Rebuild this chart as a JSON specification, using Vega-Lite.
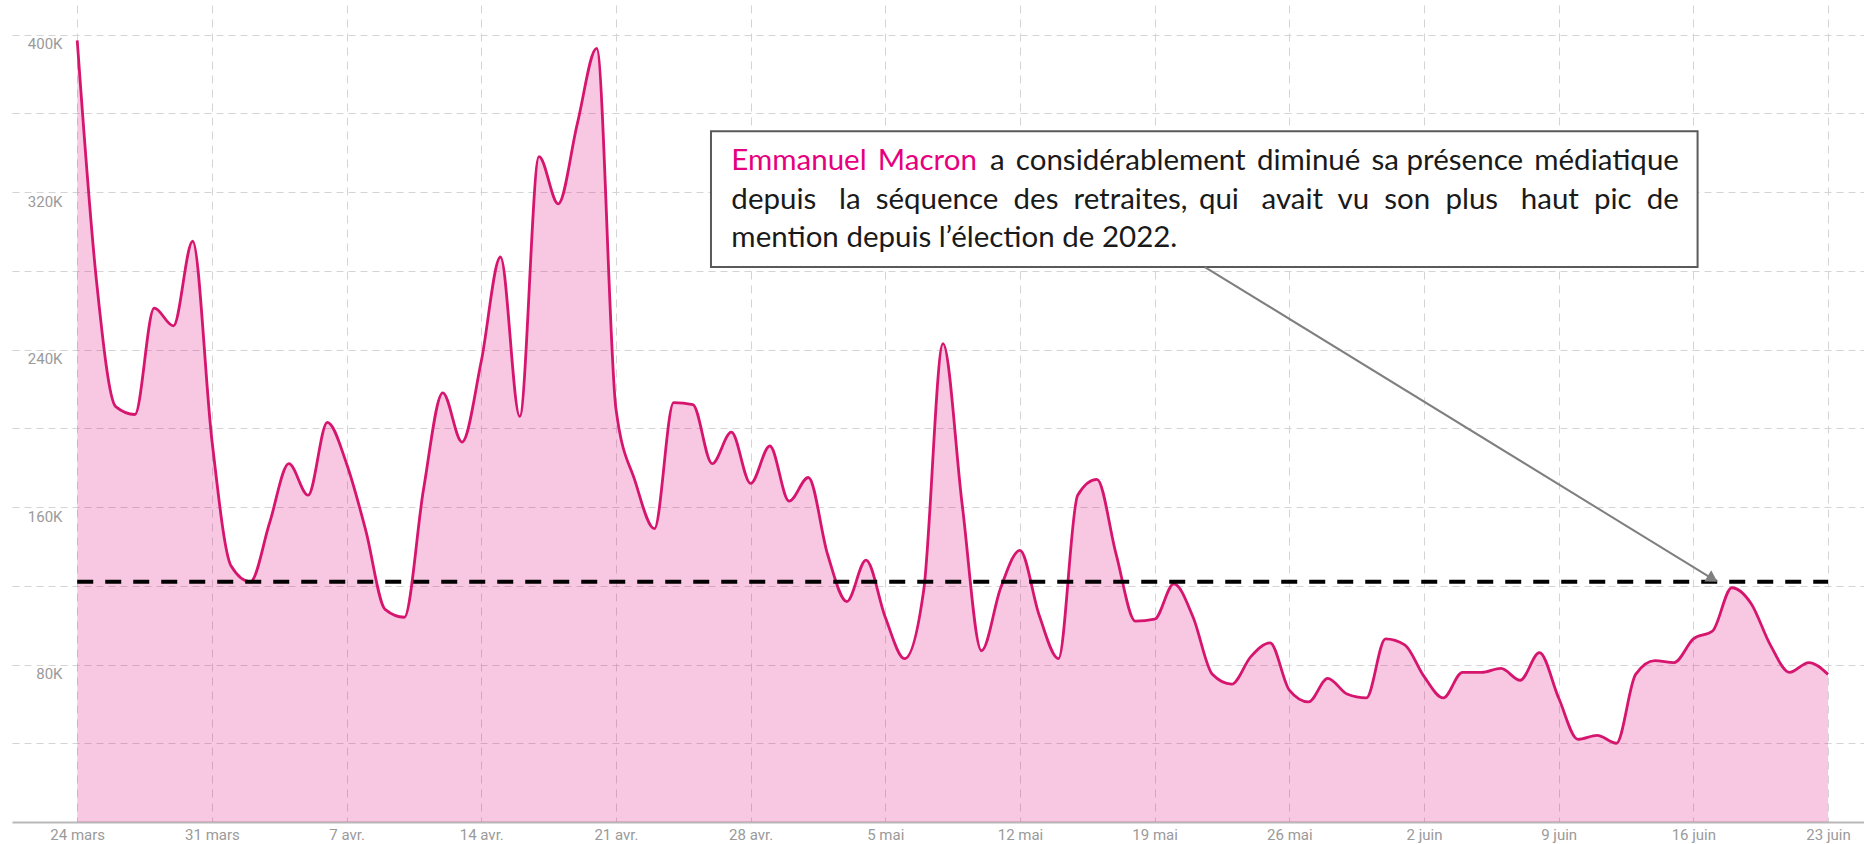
{
  "$schema": "https://vega.github.io/schema/vega-lite/v6.json",
  "width": 1852,
  "height": 817,
  "autosize": {"type": "none"},
  "padding": {"left": 12, "top": 5, "right": 0, "bottom": 22},
  "background": "white",
  "config": {"view": {"stroke": null}, "font": "Roboto"},
  "datasets": {
    "series": [
      {"date": "2023-03-24", "v": 397000}, {"date": "2023-03-25", "v": 275000}, {"date": "2023-03-26", "v": 211000},
      {"date": "2023-03-27", "v": 207000}, {"date": "2023-03-28", "v": 261000}, {"date": "2023-03-29", "v": 252000},
      {"date": "2023-03-30", "v": 295000}, {"date": "2023-03-31", "v": 194000}, {"date": "2023-04-01", "v": 130000},
      {"date": "2023-04-02", "v": 122000}, {"date": "2023-04-03", "v": 152000}, {"date": "2023-04-04", "v": 182000},
      {"date": "2023-04-05", "v": 166000}, {"date": "2023-04-06", "v": 203000}, {"date": "2023-04-07", "v": 182000},
      {"date": "2023-04-08", "v": 148000}, {"date": "2023-04-09", "v": 108000}, {"date": "2023-04-10", "v": 104000},
      {"date": "2023-04-11", "v": 169000}, {"date": "2023-04-12", "v": 218000}, {"date": "2023-04-13", "v": 193000},
      {"date": "2023-04-14", "v": 234000}, {"date": "2023-04-15", "v": 287000}, {"date": "2023-04-16", "v": 206000},
      {"date": "2023-04-17", "v": 338000}, {"date": "2023-04-18", "v": 314000}, {"date": "2023-04-19", "v": 355000},
      {"date": "2023-04-20", "v": 393000}, {"date": "2023-04-21", "v": 210000}, {"date": "2023-04-22", "v": 173000},
      {"date": "2023-04-23", "v": 149000}, {"date": "2023-04-24", "v": 213000}, {"date": "2023-04-25", "v": 212000},
      {"date": "2023-04-26", "v": 182000}, {"date": "2023-04-27", "v": 198000}, {"date": "2023-04-28", "v": 172000},
      {"date": "2023-04-29", "v": 191000}, {"date": "2023-04-30", "v": 163000}, {"date": "2023-05-01", "v": 175000},
      {"date": "2023-05-02", "v": 136000}, {"date": "2023-05-03", "v": 112000}, {"date": "2023-05-04", "v": 133000},
      {"date": "2023-05-05", "v": 104000}, {"date": "2023-05-06", "v": 83000}, {"date": "2023-05-07", "v": 118000},
      {"date": "2023-05-08", "v": 243000}, {"date": "2023-05-09", "v": 161000}, {"date": "2023-05-10", "v": 87000},
      {"date": "2023-05-11", "v": 119000}, {"date": "2023-05-12", "v": 138000}, {"date": "2023-05-13", "v": 105000},
      {"date": "2023-05-14", "v": 83000}, {"date": "2023-05-15", "v": 166000}, {"date": "2023-05-16", "v": 174000},
      {"date": "2023-05-17", "v": 136000}, {"date": "2023-05-18", "v": 102000}, {"date": "2023-05-19", "v": 103000},
      {"date": "2023-05-20", "v": 121000}, {"date": "2023-05-21", "v": 104000}, {"date": "2023-05-22", "v": 75000},
      {"date": "2023-05-23", "v": 70000}, {"date": "2023-05-24", "v": 84000}, {"date": "2023-05-25", "v": 91000},
      {"date": "2023-05-26", "v": 67000}, {"date": "2023-05-27", "v": 61000}, {"date": "2023-05-28", "v": 73000},
      {"date": "2023-05-29", "v": 65000}, {"date": "2023-05-30", "v": 63000}, {"date": "2023-05-31", "v": 93000},
      {"date": "2023-06-01", "v": 90000}, {"date": "2023-06-02", "v": 74000}, {"date": "2023-06-03", "v": 63000},
      {"date": "2023-06-04", "v": 76000}, {"date": "2023-06-05", "v": 76000}, {"date": "2023-06-06", "v": 78000},
      {"date": "2023-06-07", "v": 72000}, {"date": "2023-06-08", "v": 86000}, {"date": "2023-06-09", "v": 63000},
      {"date": "2023-06-10", "v": 42000}, {"date": "2023-06-11", "v": 44000}, {"date": "2023-06-12", "v": 40000},
      {"date": "2023-06-13", "v": 75000}, {"date": "2023-06-14", "v": 82000}, {"date": "2023-06-15", "v": 81000},
      {"date": "2023-06-16", "v": 93000}, {"date": "2023-06-17", "v": 97000}, {"date": "2023-06-18", "v": 119000},
      {"date": "2023-06-19", "v": 111000}, {"date": "2023-06-20", "v": 90000}, {"date": "2023-06-21", "v": 76000},
      {"date": "2023-06-22", "v": 81000}, {"date": "2023-06-23", "v": 75000}
    ],
    "ref": [{"start": "2023-03-24", "end": "2023-06-23", "v": 122000}],
    "box": [{"x1": "2023-04-25T22:34:00Z", "x2": "2023-06-16T05:17:00Z", "y1": 350900, "y2": 281900}],
    "pinkText": [{"x": "2023-04-27T00:00:00Z", "y": 336000, "t": "Emmanuel \u2009Macron"}],
    "leftText": [
      {"x": "2023-04-27T00:00:00Z", "y": 316100, "t": "depuis\u00a0\u00a0\u00a0la\u00a0\u00a0séquence\u00a0\u00a0des\u00a0\u00a0retraites,"},
      {"x": "2023-04-27T00:00:00Z", "y": 296700, "t": "mention depuis l’élection de 2022."}
    ],
    "rightText": [
      {"x": "2023-06-15T06:00:00Z", "y": 336000, "t": "a \u2009considérablement \u2009diminué \u2009sa présence \u2009médiatique"},
      {"x": "2023-06-15T06:00:00Z", "y": 316100, "t": "qui\u00a0\u00a0\u00a0avait\u00a0\u00a0vu\u00a0\u00a0son\u00a0\u00a0plus\u00a0\u00a0\u00a0haut\u00a0\u00a0pic\u00a0\u00a0de"}
    ],
    "arrow": [{"xa": "2023-05-21T14:38:00Z", "ya": 281900, "xb": "2023-06-17T00:00:00Z", "yb": 123500}]
  },
  "layer": [
    {
      "data": {"name": "series"},
      "mark": {"type": "area", "interpolate": "monotone", "color": "#e0007a", "opacity": 0.22},
      "encoding": {
        "x": {
          "field": "date", "type": "temporal", "title": null,
          "scale": {"type": "utc", "domain": [
            {"year": 2023, "month": 3, "date": 20, "hours": 14, "minutes": 38, "utc": true},
            {"year": 2023, "month": 6, "date": 24, "hours": 20, "minutes": 53, "utc": true}
          ]},
          "axis": {
            "values": [
              {"year": 2023, "month": 3, "date": 24, "utc": true},
              {"year": 2023, "month": 3, "date": 31, "utc": true},
              {"year": 2023, "month": 4, "date": 7, "utc": true},
              {"year": 2023, "month": 4, "date": 14, "utc": true},
              {"year": 2023, "month": 4, "date": 21, "utc": true},
              {"year": 2023, "month": 4, "date": 28, "utc": true},
              {"year": 2023, "month": 5, "date": 5, "utc": true},
              {"year": 2023, "month": 5, "date": 12, "utc": true},
              {"year": 2023, "month": 5, "date": 19, "utc": true},
              {"year": 2023, "month": 5, "date": 26, "utc": true},
              {"year": 2023, "month": 6, "date": 2, "utc": true},
              {"year": 2023, "month": 6, "date": 9, "utc": true},
              {"year": 2023, "month": 6, "date": 16, "utc": true},
              {"year": 2023, "month": 6, "date": 23, "utc": true}
            ],
            "labelExpr": "utcdate(datum.value) + ' ' + ['janv.','févr.','mars','avr.','mai','juin'][utcmonth(datum.value)]",
            "grid": true, "gridDash": [8, 6], "gridColor": "#d4d4d4", "gridWidth": 1,
            "domain": true, "domainColor": "#b8b8b8", "domainWidth": 2,
            "ticks": false, "tickSize": 0,
            "labelFont": "Roboto", "labelFontSize": 15, "labelColor": "#9a9a9a",
            "labelPadding": 5, "labelOverlap": false, "labelFlush": false
          }
        },
        "y": {
          "field": "v", "type": "quantitative", "title": null,
          "scale": {"domain": [0, 415000], "nice": false, "zero": true},
          "axis": {
            "values": [40000, 80000, 120000, 160000, 200000, 240000, 280000, 320000, 360000, 400000],
            "labelExpr": "datum.value % 80000 === 0 ? (datum.value / 1000) + 'K' : ''",
            "grid": true, "gridDash": [7, 5], "gridColor": "#d4d4d4", "gridWidth": 1,
            "domain": false, "ticks": false, "tickSize": 0,
            "labelAlign": "right", "labelBaseline": "middle", "labelPadding": -50, "labelOffset": 9,
            "labelFont": "Roboto", "labelFontSize": 15, "labelColor": "#9a9a9a"
          }
        }
      }
    },
    {
      "data": {"name": "series"},
      "mark": {"type": "line", "interpolate": "monotone", "color": "#d6156f", "strokeWidth": 2.8},
      "encoding": {
        "x": {"field": "date", "type": "temporal", "title": null},
        "y": {"field": "v", "type": "quantitative", "title": null}
      }
    },
    {
      "data": {"name": "ref"},
      "mark": {"type": "rule", "color": "#000000", "strokeWidth": 4, "strokeDash": [16, 12]},
      "encoding": {
        "x": {"field": "start", "type": "temporal", "title": null},
        "x2": {"field": "end"},
        "y": {"field": "v", "type": "quantitative", "title": null}
      }
    },
    {
      "data": {"name": "box"},
      "mark": {"type": "rect", "fill": "#ffffff", "stroke": "#5a5a5a", "strokeWidth": 2},
      "encoding": {
        "x": {"field": "x1", "type": "temporal", "title": null},
        "x2": {"field": "x2"},
        "y": {"field": "y1", "type": "quantitative", "title": null},
        "y2": {"field": "y2"}
      }
    },
    {
      "data": {"name": "pinkText"},
      "mark": {"type": "text", "font": "Lato", "fontSize": 29.5, "color": "#e6007e", "align": "left", "baseline": "middle"},
      "encoding": {
        "x": {"field": "x", "type": "temporal", "title": null},
        "y": {"field": "y", "type": "quantitative", "title": null},
        "text": {"field": "t"}
      }
    },
    {
      "data": {"name": "leftText"},
      "mark": {"type": "text", "font": "Lato", "fontSize": 29.5, "color": "#1a1a1a", "align": "left", "baseline": "middle"},
      "encoding": {
        "x": {"field": "x", "type": "temporal", "title": null},
        "y": {"field": "y", "type": "quantitative", "title": null},
        "text": {"field": "t"}
      }
    },
    {
      "data": {"name": "rightText"},
      "mark": {"type": "text", "font": "Lato", "fontSize": 29.5, "color": "#1a1a1a", "align": "right", "baseline": "middle"},
      "encoding": {
        "x": {"field": "x", "type": "temporal", "title": null},
        "y": {"field": "y", "type": "quantitative", "title": null},
        "text": {"field": "t"}
      }
    },
    {
      "data": {"name": "arrow"},
      "mark": {"type": "rule", "color": "#7f7f7f", "strokeWidth": 2},
      "encoding": {
        "x": {"field": "xa", "type": "temporal", "title": null},
        "x2": {"field": "xb"},
        "y": {"field": "ya", "type": "quantitative", "title": null},
        "y2": {"field": "yb"}
      }
    },
    {
      "data": {"name": "arrow"},
      "mark": {"type": "point", "shape": "triangle-right", "angle": 32, "filled": true, "color": "#7f7f7f", "opacity": 1, "size": 170},
      "encoding": {
        "x": {"field": "xb", "type": "temporal", "title": null},
        "y": {"field": "yb", "type": "quantitative", "title": null}
      }
    }
  ]
}
